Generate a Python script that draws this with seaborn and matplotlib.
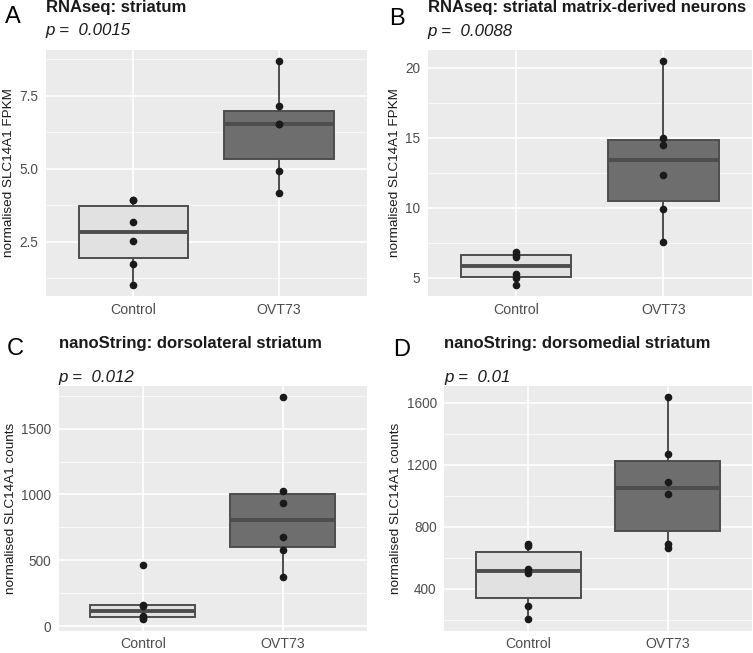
import numpy as np
import pandas as pd
import seaborn as sns
import matplotlib.pyplot as plt
from matplotlib.ticker import MultipleLocator

groups = ["Control", "OVT73"]

# values (6 samples per group)
a_control = [1.04, 1.75, 2.53, 3.17, 3.92, 3.92]
a_ovt73 = [4.17, 4.93, 6.55, 6.55, 7.15, 8.69]
b_control = [4.50, 5.00, 5.22, 6.47, 6.63, 6.85]
b_ovt73 = [7.51, 9.91, 12.31, 14.45, 14.97, 20.48]
c_control = [52, 64, 80, 156, 160, 461]
c_ovt73 = [371, 580, 675, 936, 1024, 1739]
d_control = [203, 289, 505, 531, 675, 690]
d_ovt73 = [663, 689, 1014, 1089, 1271, 1636]

letters = ["A", "B", "C", "D"]
titles = ["RNAseq: striatum", "RNAseq: striatal matrix-derived neurons",
          "nanoString: dorsolateral striatum", "nanoString: dorsomedial striatum"]
pvalues = ["0.0015", "0.0088", "0.012", "0.01"]
ylabels = ["normalised SLC14A1 FPKM", "normalised SLC14A1 FPKM",
           "normalised SLC14A1 counts", "normalised SLC14A1 counts"]
major_steps = [2.5, 5, 500, 400]

panels = [(a_control, a_ovt73), (b_control, b_ovt73),
          (c_control, c_ovt73), (d_control, d_ovt73)]

sns.set_theme(style="darkgrid", rc={
    "axes.facecolor": "#EBEBEB",
    "grid.color": "white",
    "xtick.major.size": 3.5,
    "ytick.major.size": 3.5,
    "xtick.color": "#333333",
    "ytick.color": "#333333",
    "xtick.labelcolor": "#4D4D4D",
    "ytick.labelcolor": "#4D4D4D",
})
plt.rcParams["font.family"] = ["Liberation Sans", "DejaVu Sans"]

W, H = 753, 653
fig = plt.figure(figsize=(W / 100, H / 100), dpi=100)

# panel boxes in pixels: left, right, top, bottom
boxes = [(45.7, 366.7, 50, 295.7), (427.7, 751.7, 50, 295.7),
         (58.7, 366.7, 386, 630.5), (444.3, 751.7, 386, 630.5)]
letter_pos = [(5, 22.7), (389, 25), (6.7, 355), (392.7, 356)]
title_y = [11.7, 11.7, 348.3, 348.3]
p_y = [35.5, 36.2, 382, 382]

for i, (ctrl, ovt) in enumerate(panels):
    l, r, t, b = boxes[i]
    ax = fig.add_axes([l / W, 1 - b / H, (r - l) / W, (b - t) / H])
    df = pd.DataFrame({
        "group": [groups[0]] * len(ctrl) + [groups[1]] * len(ovt),
        "value": ctrl + ovt,
    })
    sns.boxplot(data=df, x="group", y="value", hue="group", order=groups,
                palette={"Control": "#E1E1E1", "OVT73": "#6E6E6E"},
                width=0.75, showfliers=False, linecolor="#4D4D4D",
                linewidth=1.4, medianprops={"linewidth": 2.8},
                whiskerprops={"linewidth": 1.4}, showcaps=False,
                legend=False, ax=ax)
    sns.stripplot(data=df, x="group", y="value", order=groups, jitter=False,
                  color="#1A1A1A", size=5.5, ax=ax)

    lo, hi = min(df["value"]), max(df["value"])
    pad = (hi - lo) * 0.05
    ax.set_ylim(lo - pad, hi + pad)
    ax.set_xlim(-0.6, 1.6)
    ax.yaxis.set_major_locator(MultipleLocator(major_steps[i]))
    ax.yaxis.set_minor_locator(MultipleLocator(major_steps[i] / 2))
    ax.grid(which="major", color="white", linewidth=1.2)
    ax.grid(which="minor", axis="y", color="white", linewidth=0.5)
    ax.tick_params(axis="x", which="major", labelsize=10.2, pad=1.5, width=1)
    ax.tick_params(axis="y", which="major", labelsize=9.8, pad=2, width=1)
    ax.tick_params(axis="y", which="minor", length=0)
    ax.set_xlabel("")
    ax.set_ylabel(ylabels[i], fontsize=9.7, color="#1A1A1A", labelpad=3)
    for s in ax.spines.values():
        s.set_visible(False)

    fig.text(l / W, 1 - title_y[i] / H, titles[i], fontsize=12,
             fontweight="bold", color="#1A1A1A", va="baseline")
    fig.text(l / W, 1 - p_y[i] / H, "p =  " + pvalues[i], fontsize=12.2,
             fontstyle="italic", color="#1A1A1A", va="baseline")
    lx, ly = letter_pos[i]
    fig.text(lx / W, 1 - ly / H, letters[i], fontsize=17, color="black",
             va="baseline")

fig.savefig("out.png", dpi=100)
